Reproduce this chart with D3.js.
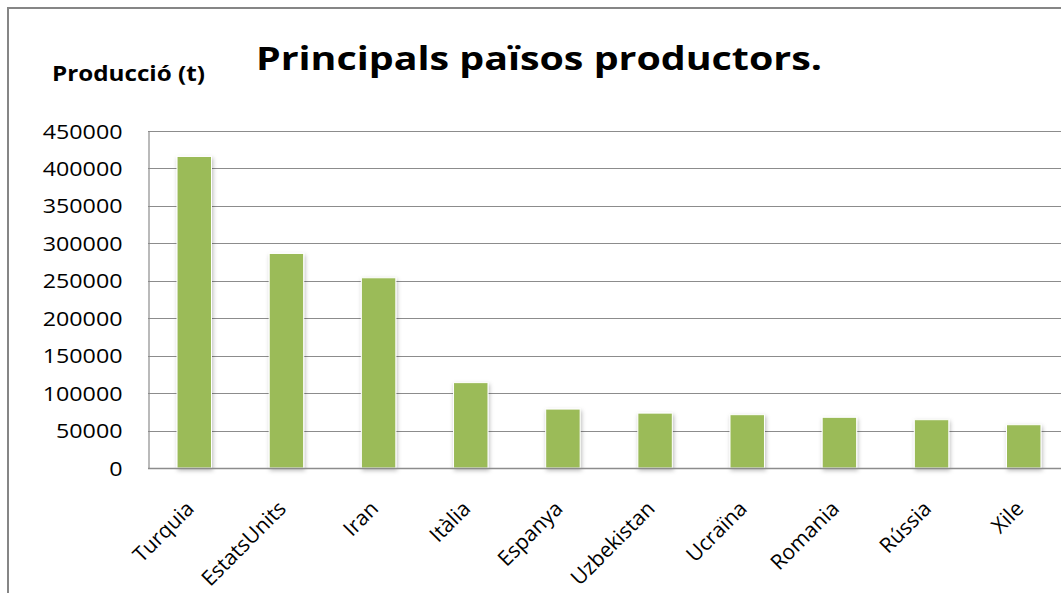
<!DOCTYPE html>
<html>
<head>
<meta charset="utf-8">
<script src="https://cdn.jsdelivr.net/npm/d3@7"></script>
<style>
  html, body { margin: 0; padding: 0; background: #fff; }
  svg { display: block; }
  text { font-family: "Open Sans", "Noto Sans", "DejaVu Sans", sans-serif; fill: #000; }
</style>
</head>
<body>
<svg id="chart" width="1061" height="593"></svg>
<script>
// Production by country, tonnes
const countries = ["Turquia", "EstatsUnits", "Iran", "Itàlia", "Espanya", "Uzbekistan", "Ucraïna", "Romania", "Rússia", "Xile"];
const production = [416000, 286500, 254000, 114000, 78700, 73300, 71200, 67700, 64500, 57800];
const yTicks = [0, 50000, 100000, 150000, 200000, 250000, 300000, 350000, 400000, 450000];

const titleText = "Principals països productors.";
const yAxisTitle = "Producció (t)";

const svg = d3.select("#chart");

const plot = { left: 148, top: 131, right: 1070, bottom: 468 };

// Drop shadow for the bars
const defs = svg.append("defs");
const f = defs.append("filter").attr("id", "shadow")
  .attr("x", "-30%").attr("y", "-10%").attr("width", "160%").attr("height", "130%");
f.append("feDropShadow").attr("dx", 1).attr("dy", 2).attr("stdDeviation", 2)
  .attr("flood-color", "#000").attr("flood-opacity", 0.28);

// Chart frame
svg.append("rect")
  .attr("x", 8).attr("y", 8).attr("width", 1100).attr("height", 700)
  .attr("fill", "#fff").attr("stroke", "#868686").attr("stroke-width", 2);

const x = d3.scaleBand().domain(countries).range([plot.left, plot.right])
  .paddingInner(0.626).paddingOuter(0.315);
const y = d3.scaleLinear().domain([0, 450000]).range([plot.bottom, plot.top]);

// Horizontal gridlines
svg.append("g").selectAll("line").data(yTicks).join("line")
  .attr("x1", plot.left).attr("x2", plot.right)
  .attr("y1", d => Math.round(y(d)) + 0.5).attr("y2", d => Math.round(y(d)) + 0.5)
  .attr("stroke", "#8c8c8c").attr("stroke-width", 1.2);

// Vertical axis line and tick labels
const yAxis = d3.axisLeft(y).tickValues(yTicks).tickSize(0).tickPadding(26).tickFormat(d3.format("d"));
const gy = svg.append("g").attr("transform", `translate(${plot.left + 0.5},0)`).call(yAxis);
gy.select(".domain").attr("stroke", "#8c8c8c").attr("stroke-width", 1.2);
gy.selectAll("text")
  .attr("font-size", 20).attr("fill", "#000").attr("dy", "0.35em")
  .attr("textLength", d => String(d).length * 13.3)
  .attr("lengthAdjust", "spacingAndGlyphs");

// Bars
svg.append("g").selectAll("rect").data(countries).join("rect")
  .attr("x", d => x(d))
  .attr("y", (d, i) => y(production[i]))
  .attr("width", x.bandwidth())
  .attr("height", (d, i) => y(0) - y(production[i]))
  .attr("fill", "#9bbb59")
  .attr("stroke", "#ffffff").attr("stroke-width", 1)
  .attr("filter", "url(#shadow)");

// Baseline
svg.append("line")
  .attr("x1", plot.left).attr("x2", plot.right)
  .attr("y1", plot.bottom + 0.5).attr("y2", plot.bottom + 0.5)
  .attr("stroke", "#8c8c8c").attr("stroke-width", 1.5);

// Category labels, rotated
svg.append("g").selectAll("text").data(countries).join("text")
  .attr("transform", d => `translate(${x(d) + x.bandwidth() / 2 + 1},${plot.bottom + 42}) rotate(-45)`)
  .attr("text-anchor", "end")
  .attr("font-size", 21)
  .text(d => d);

// Titles
svg.append("text")
  .attr("x", 256).attr("y", 70)
  .attr("font-size", 33).attr("font-weight", "bold")
  .attr("textLength", 566).attr("lengthAdjust", "spacingAndGlyphs")
  .text(titleText);

svg.append("text")
  .attr("x", 52).attr("y", 81)
  .attr("font-size", 22).attr("font-weight", "bold")
  .attr("textLength", 153).attr("lengthAdjust", "spacingAndGlyphs")
  .text(yAxisTitle);
</script>
</body>
</html>
